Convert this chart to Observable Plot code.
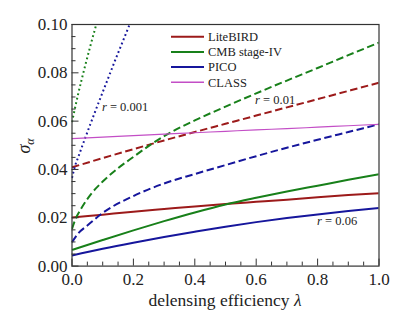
<!DOCTYPE html>
<html><head><meta charset="utf-8">
<script src="https://cdn.jsdelivr.net/npm/d3@7"></script>
<script src="https://cdn.jsdelivr.net/npm/@observablehq/plot@0.6"></script>
<style>
body{margin:0;background:#fff;}
#chart{width:407px;height:326px;}
#chart svg, #chart svg text, #chart svg tspan{font-family:"Times New Roman",serif !important;}
</style></head><body><div id="chart"></div>
<script>
// ---- data ----
const experiments = ["LiteBIRD", "CMB stage-IV", "PICO", "CLASS"];
const tensorRatios = ["0.06", "0.01", "0.001"];

const lambdaGrid = [0, 0.1, 0.2, 0.3, 0.4, 0.5, 0.6, 0.7, 0.8, 0.9, 1.0];
const liteBIRD_r006 = [0.0201, 0.0213, 0.0225, 0.0236, 0.0247, 0.0257, 0.0266, 0.0275, 0.0285, 0.0294, 0.0302];
const s4_r006 = [0.0067, 0.0108, 0.0148, 0.0186, 0.0222, 0.0255, 0.0283, 0.0309, 0.0333, 0.0357, 0.0380];
const pico_r006 = [0.0044, 0.0072, 0.0097, 0.0120, 0.0142, 0.0163, 0.0182, 0.0199, 0.0214, 0.0228, 0.0241];
const liteBIRD_r001 = [0.0409, 0.0447, 0.0484, 0.0520, 0.0555, 0.0589, 0.0623, 0.0657, 0.0691, 0.0725, 0.0759];
const class_sigma = [0.0528, 0.0534, 0.0540, 0.0546, 0.0552, 0.0558, 0.0564, 0.0569, 0.0575, 0.0581, 0.0587];

const s4_r001_lambda = [0, 0.01, 0.03, 0.06, 0.1, 0.15, 0.2, 0.26, 0.3, 0.4, 0.5, 0.6, 0.7, 0.8, 0.9, 1.0];
const s4_r001 = [0.0154, 0.0190, 0.0238, 0.0295, 0.0350, 0.0405, 0.0452, 0.0506, 0.0538, 0.0603, 0.0660, 0.0715, 0.0768, 0.0820, 0.0873, 0.0925];

const pico_r001_lambda = [0, 0.02, 0.05, 0.1, 0.2, 0.3, 0.4, 0.5, 0.6, 0.7, 0.8, 0.9, 1.0];
const pico_r001 = [0.0099, 0.0135, 0.0168, 0.0220, 0.0290, 0.0342, 0.0381, 0.0418, 0.0455, 0.0490, 0.0523, 0.0555, 0.0587];

const s4_r0001_lambda = [0, 0.02, 0.04, 0.06, 0.08, 0.09];
const s4_r0001 = [0.0596, 0.0712, 0.0815, 0.0912, 0.1004, 0.1048];

const pico_r0001_lambda = [0, 0.01, 0.02, 0.04, 0.06, 0.08, 0.10, 0.12, 0.14, 0.16, 0.18, 0.20];
const pico_r0001 = [0.0365, 0.0415, 0.0450, 0.0520, 0.0588, 0.0655, 0.0720, 0.0785, 0.0850, 0.0913, 0.0976, 0.1038];

const xMajor = [0, 0.2, 0.4, 0.6, 0.8, 1.0];
const xMinor = d3.range(0, 21).map(i => i / 20).filter(v => !xMajor.some(m => Math.abs(m - v) < 1e-9));
const yMajor = [0, 0.02, 0.04, 0.06, 0.08, 0.10];
const yMinor = d3.range(0, 21).map(i => i / 200).filter(v => !yMajor.some(m => Math.abs(m - v) < 1e-9));

const annotations = [
  {r: "0.001", lambda: 0.099, sigma: 0.0656},
  {r: "0.01", lambda: 0.598, sigma: 0.0685},
  {r: "0.06", lambda: 0.80, sigma: 0.0185}
];

// ---- build table ----
function series(exp, r, lam, sig) { return lam.map((l, i) => ({exp, r, lambda: l, sigma: sig[i]})); }
const rows = [
  ...series("LiteBIRD", "0.06", lambdaGrid, liteBIRD_r006),
  ...series("CMB stage-IV", "0.06", lambdaGrid, s4_r006),
  ...series("PICO", "0.06", lambdaGrid, pico_r006),
  ...series("LiteBIRD", "0.01", lambdaGrid, liteBIRD_r001),
  ...series("CMB stage-IV", "0.01", s4_r001_lambda, s4_r001),
  ...series("PICO", "0.01", pico_r001_lambda, pico_r001),
  ...series("CMB stage-IV", "0.001", s4_r0001_lambda, s4_r0001),
  ...series("PICO", "0.001", pico_r0001_lambda, pico_r0001),
  ...series("CLASS", "all", lambdaGrid, class_sigma)
];

const colors = ["#9c1a1a", "#18801a", "#16169c", "#c34ec6"];
const dashes = {"0.06": null, "0.01": "7.5,3.6", "0.001": "1.8,2.8"};
const axisColor = "#333";
const FONT = "Times New Roman, serif";
const W = 407, H = 326, mL = 71.5, mR = 28.5, mT = 24, mB = 60.4;

const marks = [];
for (const r of tensorRatios) {
  marks.push(Plot.line(rows.filter(d => d.r === r), {
    x: "lambda", y: "sigma", z: "exp", stroke: "exp", strokeWidth: 2,
    strokeDasharray: dashes[r], strokeLinecap: "butt", curve: "monotone-x", clip: true
  }));
}
marks.push(Plot.line(rows.filter(d => d.r === "all"), {
  x: "lambda", y: "sigma", stroke: "exp", strokeWidth: 1.2, curve: "monotone-x", clip: true
}));
marks.push(
  Plot.axisX({ticks: xMinor, tickSize: -4, tickFormat: () => "", label: null, stroke: axisColor}),
  Plot.axisX({ticks: xMajor, tickSize: -7, tickPadding: 14, tickFormat: d3.format(".1f"), label: null, stroke: axisColor, fill: "#222"}),
  Plot.axisY({ticks: yMinor, tickSize: -4, tickFormat: () => "", label: null, stroke: axisColor}),
  Plot.axisY({ticks: yMajor, tickSize: -7, tickPadding: 11.5, tickFormat: d3.format(".2f"), label: null, stroke: axisColor, fill: "#222"}),
  Plot.frame({stroke: axisColor, strokeWidth: 1.2})
);

const svg = Plot.plot({
  width: W, height: H,
  marginLeft: mL, marginRight: mR, marginTop: mT, marginBottom: mB,
  x: {domain: [0, 1]},
  y: {domain: [0, 0.1]},
  color: {domain: experiments, range: colors},
  style: {fontFamily: FONT, fontSize: "17px", background: "white", color: "#222"},
  marks
});
document.getElementById("chart").appendChild(svg);

const sx = svg.scale("x"), sy = svg.scale("y");
const S = d3.select(svg);
S.attr("font-family", FONT);
S.selectAll("text").attr("font-family", FONT);

// annotations with italic r
for (const a of annotations) {
  const t = S.append("text").attr("x", sx.apply(a.lambda)).attr("y", sy.apply(a.sigma))
    .attr("dy", "0.35em").attr("text-anchor", "start").attr("font-size", 12.5)
    .attr("fill", "#222").attr("font-family", FONT);
  t.append("tspan").attr("font-style", "italic").text("r");
  t.append("tspan").text(" = " + a.r);
}

// legend
const lg = S.append("g");
experiments.forEach((e, i) => {
  const y = 36.7 + i * 15.2;
  lg.append("line").attr("x1", 171).attr("x2", 204).attr("y1", y).attr("y2", y)
    .attr("stroke", colors[i]).attr("stroke-width", e === "CLASS" ? 1.5 : 2);
  lg.append("text").attr("x", 208).attr("y", y).attr("dy", "0.35em").attr("text-anchor", "start")
    .attr("font-size", 12.5).attr("fill", "#222").attr("font-family", FONT).text(e);
});

// axis titles
const xl = S.append("text").attr("x", (mL + W - mR) / 2).attr("y", 306)
  .attr("text-anchor", "middle").attr("font-size", 17.5).attr("fill", "#222").attr("font-family", FONT);
xl.append("tspan").text("delensing efficiency ");
xl.append("tspan").attr("font-style", "italic").text("λ");

const yl = S.append("text").attr("transform", "translate(30,146) rotate(-90)")
  .attr("text-anchor", "middle").attr("font-size", 18).attr("fill", "#222").attr("font-family", FONT);
yl.append("tspan").attr("font-style", "italic").text("σ");
yl.append("tspan").attr("font-style", "italic").attr("font-size", 12).attr("dy", 4).text("α");
</script></body></html>
